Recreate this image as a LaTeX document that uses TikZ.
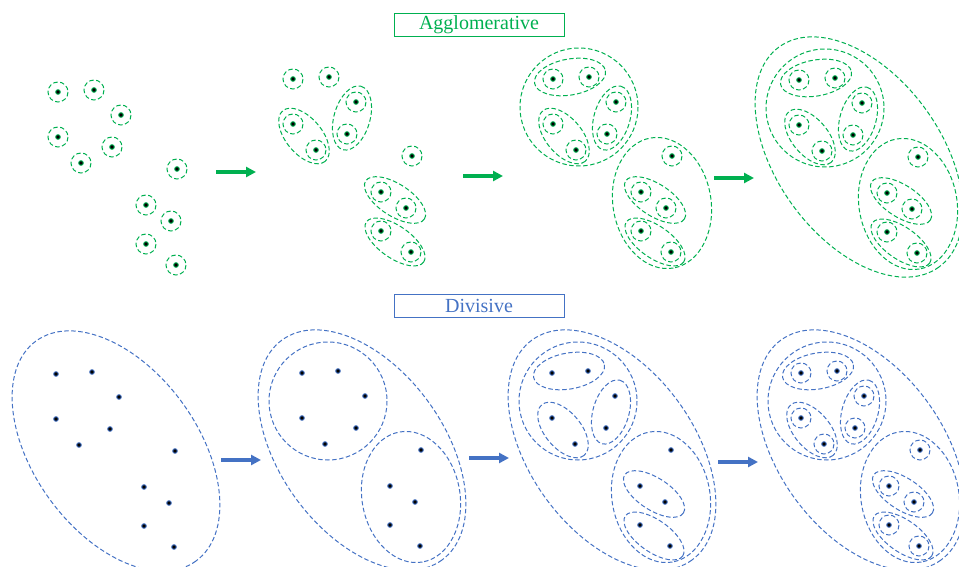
\documentclass[tikz,border=0pt]{standalone}
\usepackage{fontspec}
\setmainfont{Liberation Serif}
\usetikzlibrary{arrows.meta}

\definecolor{aggl}{RGB}{0,176,80}
\definecolor{divi}{RGB}{68,114,196}

% the eleven sample points, in panel coordinates (y grows downwards)
\newcommand{\setpoints}{%
  \coordinate (p1) at (58,92);   \coordinate (p2) at (94,90);
  \coordinate (p3) at (121,115); \coordinate (p4) at (58,137);
  \coordinate (p5) at (112,147); \coordinate (p6) at (81,163);
  \coordinate (p7) at (177,169); \coordinate (p8) at (146,205);
  \coordinate (p9) at (171,221); \coordinate (p10) at (146,244);
  \coordinate (p11) at (176,265);}
\newcommand{\drawpts}{\foreach \i in {1,...,11} \filldraw[pt] (p\i) circle (2.3);}
\newcommand{\drawrings}{\foreach \i in {1,...,11} \draw[ring] (p\i) circle (10);}

% clusters of two points
\newcommand{\clA}{\draw[ring] (75,90) circle [x radius=36, y radius=18, rotate=10];}
\newcommand{\clB}{\draw[ring] (69,149) circle [x radius=33, y radius=18, rotate=-50];}
\newcommand{\clC}{\draw[ring] (117,131) circle [x radius=33, y radius=18, rotate=74];}
\newcommand{\clD}{\draw[ring] (160,213) circle [x radius=35, y radius=16, rotate=-33];}
\newcommand{\clE}{\draw[ring] (160,255) circle [x radius=35, y radius=16, rotate=-35];}
\newcommand{\pairs}{\clA\clB\clC\clD\clE}
% the two halves and the whole set
\newcommand{\halves}{%
  \draw[ring] (84,120) circle (59);
  \draw[ring] (167,216) circle [x radius=66, y radius=49, rotate=-80];}
\newcommand{\whole}{\draw[ring] (118,169) circle [x radius=136, y radius=82, rotate=-54];}

\begin{document}
\begin{tikzpicture}[x=1pt, y=-1pt,
    ring/.style={dashed, dash pattern=on 4.5pt off 2.5pt, line width=1pt},
    pt/.style={fill=black, line width=0.9pt},
    go/.style={line width=3.5pt, -{Triangle[length=10pt, width=10pt]}},
    title/.style={draw, line width=0.9pt, minimum width=170pt, minimum height=23pt,
      inner sep=0pt, font=\fontsize{20}{24}\selectfont}]
  \useasboundingbox (0,0) rectangle (959,567);

  % titles
  \node[title, aggl] (agglo) at (479,24.5) {Agglomerative};
  \node[title, divi] (divis) at (479,306) {Divisive};

  % agglomerative: bottom-up
  \begin{scope}[aggl]
    \setpoints \drawrings \drawpts
  \end{scope}
  \begin{scope}[aggl, shift={(235,-13)}]
    \setpoints \drawrings \clB\clC\clD\clE \drawpts
  \end{scope}
  \begin{scope}[aggl, shift={(495,-13)}]
    \setpoints \drawrings \pairs \halves \drawpts
  \end{scope}
  \begin{scope}[aggl, shift={(741,-12)}]
    \setpoints \drawrings \pairs \halves \whole \drawpts
  \end{scope}

  % divisive: top-down
  \begin{scope}[divi, shift={(-2,282)}]
    \setpoints \whole \drawpts
  \end{scope}
  \begin{scope}[divi, shift={(244,281)}]
    \setpoints \whole \halves \drawpts
  \end{scope}
  \begin{scope}[divi, shift={(494,281)}]
    \setpoints \whole \halves \pairs \drawpts
  \end{scope}
  \begin{scope}[divi, shift={(743,281)}]
    \setpoints \whole \halves \pairs \drawrings \drawpts
  \end{scope}

  % arrows between the stages
  \coordinate (ag1s) at (216,172); \coordinate (ag1e) at (256,172);
  \coordinate (ag2s) at (463,176); \coordinate (ag2e) at (503,176);
  \coordinate (ag3s) at (714,178); \coordinate (ag3e) at (754,178);
  \coordinate (dv1s) at (221,460); \coordinate (dv1e) at (261,460);
  \coordinate (dv2s) at (469,458); \coordinate (dv2e) at (509,458);
  \coordinate (dv3s) at (718,462); \coordinate (dv3e) at (758,462);
  \foreach \a in {ag1,ag2,ag3} \draw[go, aggl] (\a s) -- (\a e);
  \foreach \a in {dv1,dv2,dv3} \draw[go, divi] (\a s) -- (\a e);
\end{tikzpicture}
\end{document}
